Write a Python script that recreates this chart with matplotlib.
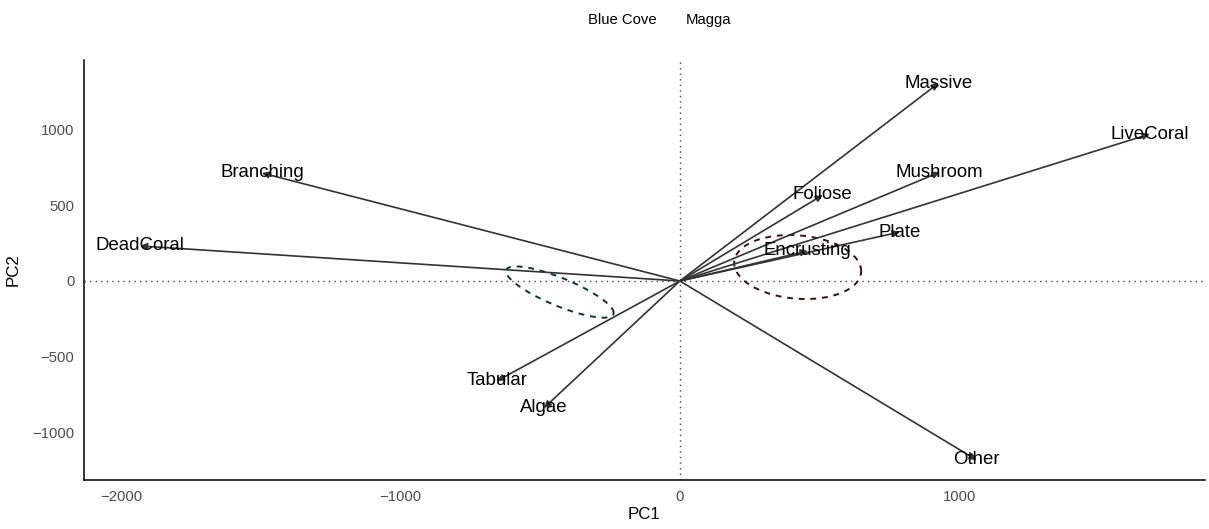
import numpy as np
import matplotlib
matplotlib.use("Agg")
import matplotlib.pyplot as plt
from matplotlib.lines import Line2D

plt.rcParams['font.family'] = ['Liberation Sans', 'DejaVu Sans']

# loadings (arrow tips)
variables = ["Massive", "LiveCoral", "Branching", "DeadCoral", "Mushroom", "Foliose",
             "Plate", "Encrusting", "Tabular", "Algae", "Other"]
pc1 = [927, 1683, -1497, -1933, 931, 512, 788, 458, -655, -487, 1063]
pc2 = [1305, 969, 712, 231, 718, 567, 323, 198, -659, -837, -1180]

# group ellipses: centre and shape matrix
sites = ["Blue Cove", "Magga"]
site_colors = ["#0b3535", "#3a1010"]
ell_centers = [(-430, -73), (422, 92)]
ell_shapes = [[[37225, -26417], [-26417, 28541]],
              [[51713, -6047], [-6047, 44516]]]

fig = plt.figure(figsize=(12.09, 5.29), dpi=100)
ax = fig.add_axes([0.0695, 0.0926, 0.927, 0.794])

ax.axhline(0, color="#444444", lw=1.0, ls=(0, (1, 3)))
ax.axvline(0, color="#444444", lw=1.0, ls=(0, (1, 3)))

t = np.linspace(0, 2 * np.pi, 200)
for name, col, c, S in zip(sites, site_colors, ell_centers, ell_shapes):
    L = np.linalg.cholesky(np.array(S, dtype=float))
    pts = L @ np.vstack([np.cos(t), np.sin(t)])
    ax.plot(pts[0] + c[0], pts[1] + c[1], color=col, lw=1.4, ls=(0, (3, 3)))

for name, x, y in zip(variables, pc1, pc2):
    ax.annotate("", xy=(x, y), xytext=(0, 0),
                arrowprops=dict(arrowstyle="-|>", color="#333333", lw=1.2,
                                mutation_scale=10, shrinkA=0, shrinkB=0))
    ax.text(x, y, name, ha="center", va="center", fontsize=13.4, color="black")

ax.set_xlim(-2134, 1880)
ax.set_ylim(-1312, 1457)
ax.set_xticks([-2000, -1000, 0, 1000])
ax.set_yticks([-1000, -500, 0, 500, 1000])
ax.set_xticklabels(["\u22122000", "\u22121000", "0", "1000"])
ax.set_yticklabels(["\u22121000", "\u2212500", "0", "500", "1000"])
ax.tick_params(length=0, labelsize=10.7, colors="#4d4d4d", pad=7)
ax.set_xlabel("PC1", fontsize=12.2, labelpad=2)
ax.set_ylabel("PC2", fontsize=12.2, labelpad=8)
for s in ["top", "right"]:
    ax.spines[s].set_visible(False)
for s in ["left", "bottom"]:
    ax.spines[s].set_linewidth(1.1)

handles = [Line2D([], [], color="none") for _ in sites]
fig.legend(handles, sites, loc="upper center", bbox_to_anchor=(0.5455, 1.0),
           ncol=2, frameon=False, fontsize=10.7, handlelength=0, handletextpad=0,
           columnspacing=1.95)

fig.savefig("out.png", dpi=100)
